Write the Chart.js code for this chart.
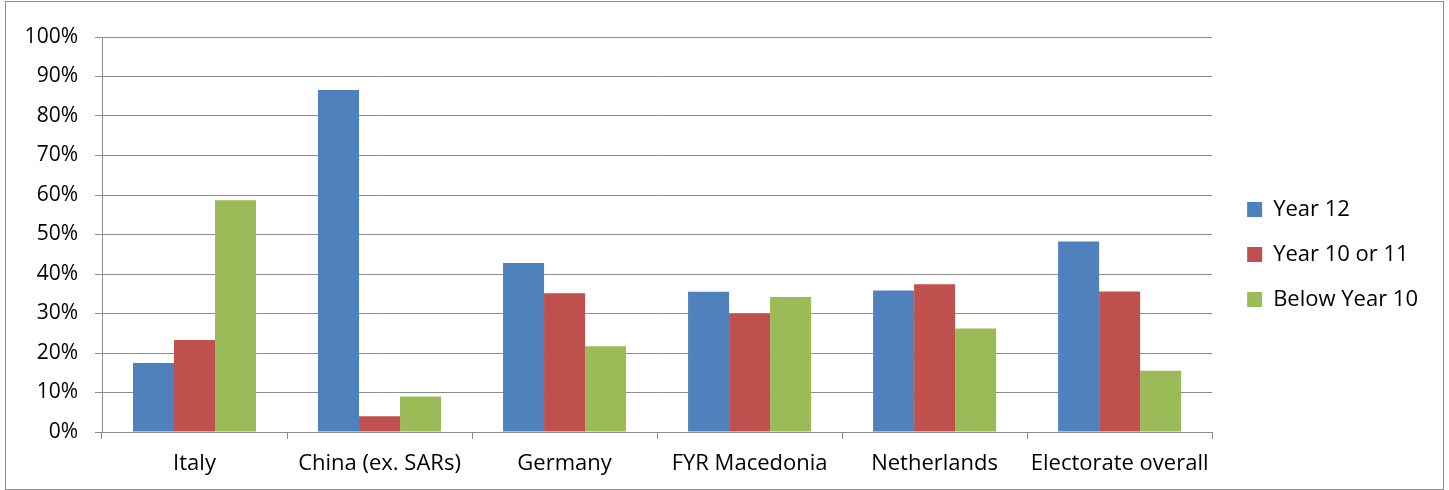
<!DOCTYPE html>
<html>
<head>
<meta charset="utf-8">
<script src="https://cdn.jsdelivr.net/npm/chart.js@4"></script>
<style>
  html, body { margin: 0; padding: 0; background: #fff; }
  #cadre {
    position: absolute; left: 5px; top: 1px;
    width: 1437px; height: 487px;
    border: 1px solid #8a8a8a;
  }
  #graphique { position: absolute; left: 0; top: 0; }
</style>
</head>
<body>
<div id="cadre"></div>
<canvas id="graphique" width="1449" height="490"></canvas>
<script>
// Catégories et séries (en %)
const pays = ["Italy", "China (ex. SARs)", "Germany", "FYR Macedonia", "Netherlands", "Electorate overall"];
const year12 = [17.5, 86.6, 42.8, 35.5, 35.8, 48.2];
const year10ou11 = [23.3, 4.0, 35.1, 29.9, 37.4, 35.6];
const sousYear10 = [58.7, 9.0, 21.7, 34.2, 26.2, 15.5];
const ticksY = [0, 10, 20, 30, 40, 50, 60, 70, 80, 90, 100];

const gris = "#8c8c8c";
Chart.defaults.font.family = "'Open Sans', sans-serif";
Chart.defaults.font.size = 21;
Chart.defaults.color = "#000";

// axe vide, seulement pour réserver de la place
const axeVide = (position, taille) => ({
    position: position,
    afterFit: s => {
        if (position === "top") s.height = taille; else s.width = taille;
    },
    ticks: { display: false },
    grid: { display: false },
    border: { display: false }
});

new Chart(document.getElementById("graphique"), {
    type: "bar",
    data: {
        labels: pays,
        datasets: [
            { label: "Year 12", data: year12, backgroundColor: "#4F81BD" },
            { label: "Year 10 or 11", data: year10ou11, backgroundColor: "#C0504D" },
            { label: "Below Year 10", data: sousYear10, backgroundColor: "#9BBB59" }
        ]
    },
    options: {
        responsive: false,
        animation: false,
        barPercentage: 1,
        categoryPercentage: 0.665,
        layout: { padding: { left: 0, right: 21, top: 19, bottom: 0 } },
        plugins: {
            legend: {
                position: "right",
                labels: { boxWidth: 15, boxHeight: 15, padding: 23, font: { size: 22 } }
            },
            tooltip: { enabled: false }
        },
        scales: {
            y: {
                min: 0, max: 100,
                afterBuildTicks: s => { s.ticks = ticksY.map(v => ({ value: v })); },
                afterFit: s => { s.width = 102; },
                ticks: { callback: v => v + "%", padding: 17 },
                grid: { color: gris, tickLength: 7 },
                border: { color: gris }
            },
            haut: axeVide("top", 18),
            marge: axeVide("right", 12),
            x: {
                afterFit: s => { s.height = 58; },
                ticks: { padding: 12, font: { size: 22 }, maxRotation: 0, autoSkip: false },
                grid: { offset: true, drawOnChartArea: false, color: gris, tickLength: 7 },
                border: { color: gris }
            }
        }
    }
});
</script>
</body>
</html>
